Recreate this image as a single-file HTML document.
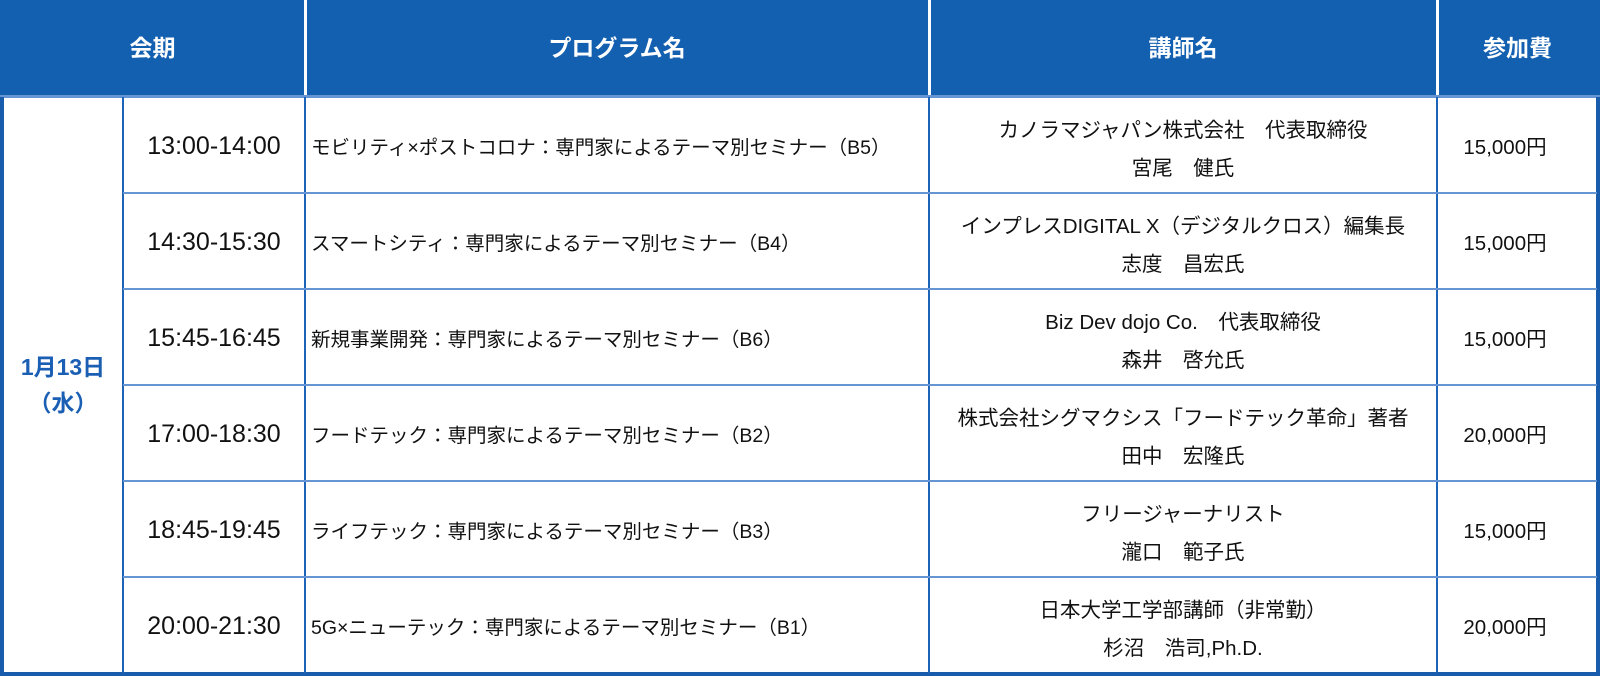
<!DOCTYPE html>
<html><head><meta charset="utf-8"><style>
html,body{margin:0;padding:0;background:#fff;}
body{width:1600px;height:676px;position:relative;overflow:hidden;font-family:"Liberation Sans","Noto Sans CJK JP",sans-serif;color:#111;}
.hd{position:absolute;top:0;left:0;width:1600px;height:97px;background:#135fb0;}
.h{position:absolute;top:0;height:97px;line-height:97px;text-align:center;color:#fff;font-weight:bold;font-size:23px;}
.vw{position:absolute;top:0;height:97px;width:3px;background:#fff;}
.v{position:absolute;width:2px;background:#1d63b8;}
.hl{position:absolute;height:2px;background:#6596d3;}
.c{position:absolute;display:flex;align-items:center;}
.t{font-size:25px;justify-content:center;padding-top:3px;box-sizing:border-box;}
.p{font-size:19.5px;}
.s{font-size:20.5px;justify-content:center;text-align:center;line-height:38px;padding-top:10px;box-sizing:border-box;}
.pr{font-size:20.5px;justify-content:center;}
</style></head><body>
<div class="hd"></div>
<div class="h" style="left:0;width:305px">会期</div>
<div class="h" style="left:305px;width:624px">プログラム名</div>
<div class="h" style="left:929px;width:508px">講師名</div>
<div class="h" style="left:1437px;width:161px">参加費</div>
<div class="vw" style="left:304px"></div>
<div class="vw" style="left:928px"></div>
<div class="vw" style="left:1436px"></div>

<div style="position:absolute;left:0;top:95px;width:1600px;height:3px;background:#6596d3"></div>
<div style="position:absolute;left:0;top:97px;width:4px;height:579px;background:#1a5cac"></div>
<div style="position:absolute;left:1596px;top:97px;width:4px;height:579px;background:#1a5cac"></div>
<div style="position:absolute;left:0;top:672px;width:1600px;height:4px;background:#1a5cac"></div>
<div class="v" style="left:122px;top:97px;height:576px"></div>
<div class="v" style="left:304px;top:97px;height:576px"></div>
<div class="v" style="left:928px;top:97px;height:576px"></div>
<div class="v" style="left:1436px;top:97px;height:576px"></div>
<div class="hl" style="left:123px;width:1474px;top:192px"></div>
<div class="hl" style="left:123px;width:1474px;top:288px"></div>
<div class="hl" style="left:123px;width:1474px;top:384px"></div>
<div class="hl" style="left:123px;width:1474px;top:480px"></div>
<div class="hl" style="left:123px;width:1474px;top:576px"></div>

<div class="c" style="left:4px;top:97px;width:118px;height:576px;justify-content:center;text-align:center;color:#1a5fb4;font-weight:bold;font-size:23px;line-height:36px">1月13日<br>（水）</div>

<div class="c t" style="left:124px;top:97px;width:180px;height:96px">13:00-14:00</div>
<div class="c t" style="left:124px;top:193px;width:180px;height:96px">14:30-15:30</div>
<div class="c t" style="left:124px;top:289px;width:180px;height:96px">15:45-16:45</div>
<div class="c t" style="left:124px;top:385px;width:180px;height:96px">17:00-18:30</div>
<div class="c t" style="left:124px;top:481px;width:180px;height:96px">18:45-19:45</div>
<div class="c t" style="left:124px;top:577px;width:180px;height:96px">20:00-21:30</div>

<div class="c p" style="left:311px;top:97px;width:615px;height:96px">モビリティ×ポストコロナ：専門家によるテーマ別セミナー（B5）</div>
<div class="c p" style="left:311px;top:193px;width:615px;height:96px">スマートシティ：専門家によるテーマ別セミナー（B4）</div>
<div class="c p" style="left:311px;top:289px;width:615px;height:96px">新規事業開発：専門家によるテーマ別セミナー（B6）</div>
<div class="c p" style="left:311px;top:385px;width:615px;height:96px">フードテック：専門家によるテーマ別セミナー（B2）</div>
<div class="c p" style="left:311px;top:481px;width:615px;height:96px">ライフテック：専門家によるテーマ別セミナー（B3）</div>
<div class="c p" style="left:311px;top:577px;width:615px;height:96px">5G×ニューテック：専門家によるテーマ別セミナー（B1）</div>

<div class="c s" style="left:930px;top:97px;width:506px;height:96px">カノラマジャパン株式会社　代表取締役<br>宮尾　健氏</div>
<div class="c s" style="left:930px;top:193px;width:506px;height:96px">インプレスDIGITAL X（デジタルクロス）編集長<br>志度　昌宏氏</div>
<div class="c s" style="left:930px;top:289px;width:506px;height:96px">Biz Dev dojo Co.　代表取締役<br>森井　啓允氏</div>
<div class="c s" style="left:930px;top:385px;width:506px;height:96px">株式会社シグマクシス「フードテック革命」著者<br>田中　宏隆氏</div>
<div class="c s" style="left:930px;top:481px;width:506px;height:96px">フリージャーナリスト<br>瀧口　範子氏</div>
<div class="c s" style="left:930px;top:577px;width:506px;height:96px">日本大学工学部講師（非常勤）<br>杉沼　浩司,Ph.D.</div>

<div class="c pr" style="left:1438px;top:97px;width:134px;height:96px">15,000円</div>
<div class="c pr" style="left:1438px;top:193px;width:134px;height:96px">15,000円</div>
<div class="c pr" style="left:1438px;top:289px;width:134px;height:96px">15,000円</div>
<div class="c pr" style="left:1438px;top:385px;width:134px;height:96px">20,000円</div>
<div class="c pr" style="left:1438px;top:481px;width:134px;height:96px">15,000円</div>
<div class="c pr" style="left:1438px;top:577px;width:134px;height:96px">20,000円</div>
</body></html>
